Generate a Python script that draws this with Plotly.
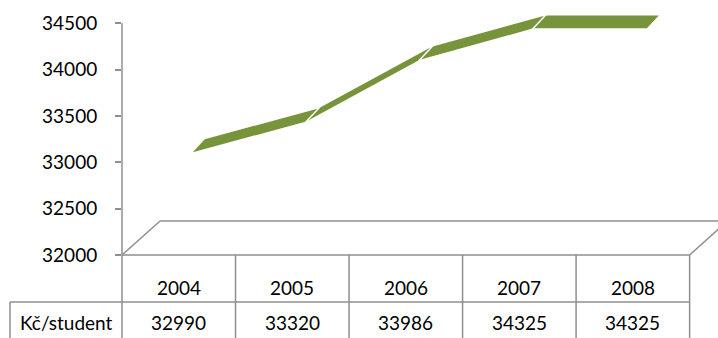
import plotly.graph_objects as go

# ---- data ----
years = ["2004", "2005", "2006", "2007", "2008"]
values = [32990, 33320, 33986, 34325, 34325]
row_label = "Kč/student"
tick_vals = [32000, 32500, 33000, 33500, 34000, 34500]
tick_text = ["32000", "32500", "33000", "33500", "34000", "34500"]

# ---- style / geometry constants ----
W, H = 718, 338
ML, MR, MT, MB = 122, 0, 0, 83
X_RANGE = [-0.5, 4.75]
Y_RANGE = [32000, 34750]
GREEN = "#77933C"
GRAY = "#8f8f8f"
TXT = "#000000"
FONT = "Lato"
FS = 19
# 3D depth offsets (category units, value units)
DXF, DYF = 0.123, 119      # ribbon front edge
DXB, DYB = 0.229, 259      # ribbon back edge
FDX, FDY = 0.335, 367      # floor depth

plot_w = W - ML - MR
plot_h = H - MT - MB


def px_to_paper_x(px):
    return (px - ML) / plot_w


def cat_to_paper_x(c):
    return (c - X_RANGE[0]) / (X_RANGE[1] - X_RANGE[0])


def py_to_paper_y(py):
    return (H - MB - py) / plot_h


fig = go.Figure()

# ribbon segments
n = len(values)
for i in range(n - 1):
    xs = [i + DXF, i + 1 + DXF, i + 1 + DXB, i + DXB, i + DXF]
    ys = [values[i] + DYF, values[i + 1] + DYF, values[i + 1] + DYB,
          values[i] + DYB, values[i] + DYF]
    fig.add_trace(go.Scatter(x=xs, y=ys, fill="toself", fillcolor=GREEN,
                             mode="lines", line=dict(width=0, color=GREEN),
                             hoverinfo="skip", showlegend=False))
# white joints
for i in range(1, n - 1):
    fig.add_trace(go.Scatter(x=[i + DXF - 0.01, i + DXB + 0.01],
                             y=[values[i] + DYF - 12, values[i] + DYB + 12],
                             mode="lines", line=dict(width=1.5, color="white"),
                             hoverinfo="skip", showlegend=False))

shapes = []
line = dict(color=GRAY, width=1.5)
# floor
x0, x1 = -0.5, n - 0.5
y0 = Y_RANGE[0]
shapes.append(dict(type="line", xref="x", yref="y", x0=x0, y0=y0,
                   x1=x0 + FDX, y1=y0 + FDY, line=line))
shapes.append(dict(type="line", xref="x", yref="y", x0=x0 + FDX, y0=y0 + FDY,
                   x1=x1 + FDX, y1=y0 + FDY, line=line))
shapes.append(dict(type="line", xref="x", yref="y", x0=x1, y0=y0,
                   x1=x1 + FDX, y1=y0 + FDY, line=line))
# value axis line
shapes.append(dict(type="line", xref="paper", yref="y", x0=0, x1=0,
                   y0=Y_RANGE[0], y1=tick_vals[-1], line=line))

# table
row1_top = py_to_paper_y(255)
row2_top = py_to_paper_y(302)
bottom = py_to_paper_y(H + 2)
left_label = px_to_paper_x(10)
shapes.append(dict(type="line", xref="paper", yref="paper",
                   x0=cat_to_paper_x(x0), x1=cat_to_paper_x(x1),
                   y0=row1_top, y1=row1_top, line=line))
shapes.append(dict(type="line", xref="paper", yref="paper",
                   x0=left_label, x1=cat_to_paper_x(x1),
                   y0=row2_top, y1=row2_top, line=line))
shapes.append(dict(type="line", xref="paper", yref="paper",
                   x0=left_label, x1=left_label,
                   y0=row2_top, y1=bottom, line=line))
for k in range(n + 1):
    xp = cat_to_paper_x(k - 0.5)
    shapes.append(dict(type="line", xref="paper", yref="paper",
                       x0=xp, x1=xp, y0=row1_top, y1=bottom, line=line))

annotations = []
for i, (yr, v) in enumerate(zip(years, values)):
    annotations.append(dict(x=i, xref="x", y=py_to_paper_y(287), yref="paper",
                            text=yr, showarrow=False, xanchor="center",
                            yanchor="middle",
                            font=dict(family=FONT, size=FS, color=TXT)))
    annotations.append(dict(x=i, xref="x", y=py_to_paper_y(322), yref="paper",
                            text=str(v), showarrow=False, xanchor="center",
                            yanchor="middle",
                            font=dict(family=FONT, size=FS, color=TXT)))
annotations.append(dict(x=px_to_paper_x(66), xref="paper", y=py_to_paper_y(322),
                        yref="paper", text=row_label, showarrow=False,
                        xanchor="center", yanchor="middle",
                        font=dict(family=FONT, size=FS, color=TXT)))

fig.update_layout(
    width=W, height=H,
    margin=dict(l=ML, r=MR, t=MT, b=MB),
    paper_bgcolor="white", plot_bgcolor="white",
    showlegend=False,
    xaxis=dict(range=X_RANGE, visible=False, fixedrange=True),
    yaxis=dict(range=Y_RANGE, tickvals=tick_vals, ticktext=tick_text,
               ticks="outside", ticklen=6,
               tickwidth=1.5, tickcolor=GRAY, showgrid=False, zeroline=False,
               showline=False, ticklabelstandoff=14,
               tickfont=dict(family=FONT, size=FS, color=TXT)),
    shapes=shapes,
    annotations=annotations,
)

fig.write_html("out.html")
